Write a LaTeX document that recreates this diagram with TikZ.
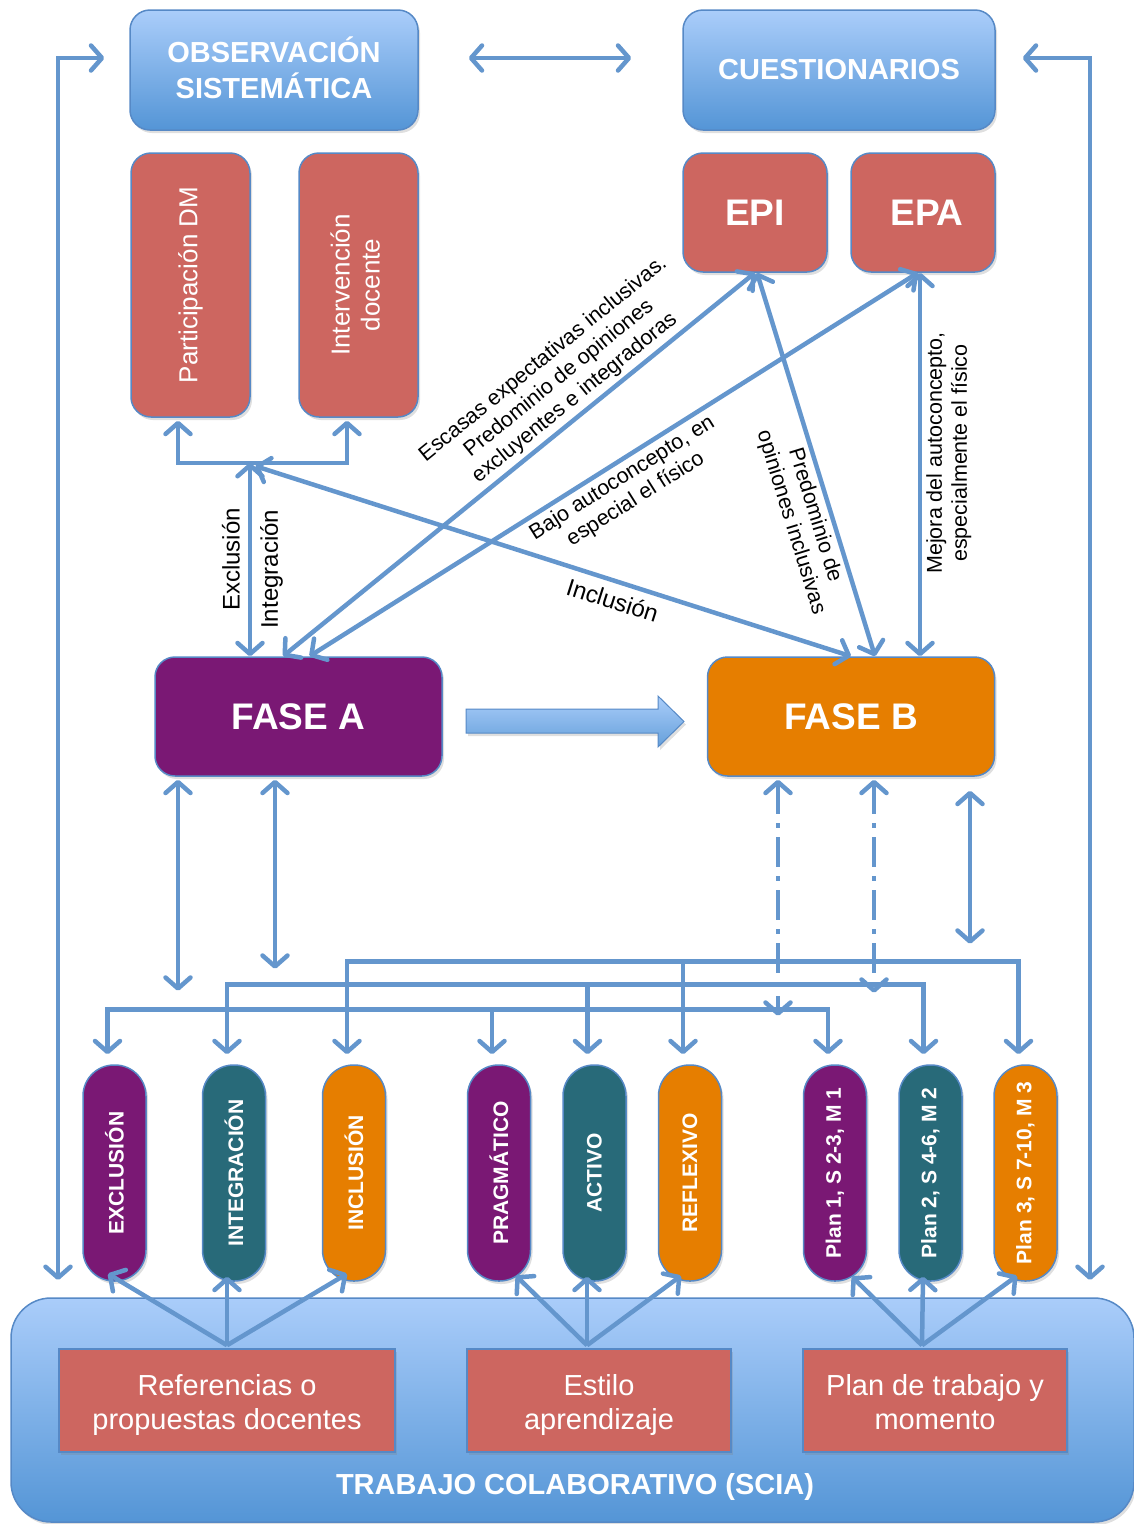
\documentclass[tikz,border=0pt]{standalone}
\usepackage{fontspec}
\setmainfont{Liberation Sans}
\usetikzlibrary{arrows.meta}
\usetikzlibrary{calc}
\usetikzlibrary{shadows}

\definecolor{boxred}{RGB}{205,102,96}
\definecolor{fasepurple}{RGB}{122,24,116}
\definecolor{faseorange}{RGB}{230,126,0}
\definecolor{pillteal}{RGB}{40,106,121}
\definecolor{linkblue}{RGB}{100,150,205}
\definecolor{edgeblue}{RGB}{86,137,198}
\definecolor{skytop}{RGB}{170,205,250}
\definecolor{skybottom}{RGB}{84,149,214}

\newcommand\twolines[3]{\raisebox{#1}[\height][\depth]{\begin{tabular}{@{}c@{}}#2\\#3\end{tabular}}}

\tikzset{
    link/.style={draw=linkblue, line width=4.5pt, >={Straight Barb[length=11pt,width=25pt,round]}},
    boxshadow/.style={drop shadow={shadow xshift=2pt,shadow yshift=-3pt,opacity=.25}},
    skybox/.style={boxshadow, draw=edgeblue, line width=1.5pt, top color=skytop, bottom color=skybottom,
        rounded corners=20pt, inner sep=0pt, text=white, align=center, font=\bfseries\fontsize{29}{35}\selectfont},
    redbox/.style={boxshadow, draw=edgeblue, line width=1.5pt, fill=boxred, rounded corners=20pt,
        inner sep=0pt, text=white, align=center},
    fasebox/.style={boxshadow, draw=edgeblue, line width=1.5pt, rounded corners=20pt, minimum width=287pt,
        minimum height=119pt, inner sep=0pt, text=white, font=\bfseries\fontsize{37}{40}\selectfont},
    pill/.style={boxshadow, draw=edgeblue, line width=1.5pt, rounded corners=31pt, minimum width=63pt,
        minimum height=216pt, inner sep=0pt, text=white, font=\bfseries\fontsize{21}{24}\selectfont},
    note/.style={font=\fontsize{21.5}{25}\selectfont, align=center, sloped, inner sep=4pt},
    bignote/.style={note, font=\fontsize{24}{27}\selectfont, inner sep=8pt}
}

\begin{document}
\begin{tikzpicture}[x=1pt,y=-1pt]
                \useasboundingbox (0,0) rectangle (1133,1524);

                \node[skybox, minimum width=288pt, minimum height=120pt] (obs) at (274,70) {\twolines{-3pt}{OBSERVACIÓN}{SISTEMÁTICA}};
                \node[skybox, minimum width=312pt, minimum height=120pt] (cuest) at (839,70) {CUESTIONARIOS};

                \node[redbox, minimum width=119pt, minimum height=264pt, font=\fontsize{26}{30}\selectfont]
                    (partic) at (190.5,285) {\rotatebox{90}{Participación DM}};
                \node[redbox, minimum width=119pt, minimum height=264pt, font=\fontsize{26}{30}\selectfont]
                    (interv) at (358.5,285) {\rotatebox{90}{\twolines{0pt}{Intervención}{docente}}};
                \node[redbox, minimum width=144pt, minimum height=119pt, font=\bfseries\fontsize{37}{40}\selectfont]
                    (epi) at (755,212.5) {EPI};
                \node[redbox, minimum width=144pt, minimum height=119pt, font=\bfseries\fontsize{37}{40}\selectfont]
                    (epa) at (923,212.5) {\hspace*{8pt}EPA};

                \node[fasebox, fill=fasepurple] (faseA) at (298.5,716.5) {FASE A};
                \node[fasebox, fill=faseorange] (faseB) at (851,716.5) {FASE B};
                \draw[boxshadow, draw=edgeblue, line width=1pt, top color=skytop, bottom color=skybottom!90!white]
                    (466,709) -- (658,709) -- (658,696) -- (684,721.5) -- (658,747) -- (658,733) -- (466,733) -- cycle;

                \draw[boxshadow, draw=edgeblue, line width=1.5pt, top color=skytop, bottom color=skybottom, rounded corners=40pt]
                    (11,1298) rectangle (1134,1522);
                \node[text=white, font=\bfseries\fontsize{29}{34}\selectfont] (scia) at (575,1487) {TRABAJO COLABORATIVO (SCIA)};

                \node[redbox, rounded corners=0pt, minimum width=336pt, minimum height=103pt, font=\fontsize{29}{34}\selectfont]
                    (refs) at (227,1400.5) {\twolines{-5pt}{Referencias o}{propuestas docentes}};
                \node[redbox, rounded corners=0pt, minimum width=264pt, minimum height=103pt, font=\fontsize{29}{34}\selectfont]
                    (estilo) at (599,1400.5) {\twolines{-5pt}{Estilo}{aprendizaje}};
                \node[redbox, rounded corners=0pt, minimum width=264pt, minimum height=103pt, font=\fontsize{29}{34}\selectfont]
                    (plan) at (935,1400.5) {\twolines{-5pt}{Plan de trabajo y}{momento}};

                \foreach \name/\x/\col/\txt in {excl/114.5/fasepurple/EXCLUSIÓN, integ/234/pillteal/INTEGRACIÓN,
                        incl/354/faseorange/INCLUSIÓN, pragm/499/fasepurple/PRAGMÁTICO, activo/594.5/pillteal/ACTIVO,
                        reflex/690/faseorange/REFLEXIVO, plan1/835/fasepurple/{Plan 1, S 2-3, M 1},
                        plan2/930.5/pillteal/{Plan 2, S 4-6, M 2}, plan3/1025.5/faseorange/{Plan 3, S 7-10, M 3}}
                    \node[pill, fill=\col] (\name) at (\x,1173) {\rotatebox{90}{\txt}};

                \coordinate (brk) at (250,463);
                \coordinate (loopL) at (58,1280);
                \coordinate (loopR) at (1090,1280);

                \draw[link,<->] ([xshift=-25pt,yshift=12pt]obs.west) -| (loopL);
                \draw[link,<->] ([xshift=27pt,yshift=12pt]cuest.east) -| (loopR);
                \draw[link,<->] ([xshift=50pt,yshift=12pt]obs.east) -- ([xshift=-51pt,yshift=12pt]cuest.west);

                \draw[link,<->] ([xshift=-12.5pt,yshift=-3pt]partic.south) |- (brk) -| ([xshift=-11.5pt,yshift=-3pt]interv.south);
                \draw[link,<->] (faseA.north -| brk) -- (brk)
                    node[bignote, pos=0.5, above] {Exclusión}
                    node[bignote, pos=0.45, below] {Integración};
                \draw[link,<->] ([xshift=5pt,yshift=-3pt]brk) -- (faseB.north)
                    node[bignote, pos=0.61, below] {Inclusión};

                \draw[link,<->] ([xshift=-15.5pt]faseA.north) -- (epi.south)
                    node[note, pos=0.64, above] {Escasas expectativas inclusivas.\\Predominio de opiniones\\excluyentes e integradoras};
                \draw[link,<->] ([xshift=11pt]faseA.north) -- ([xshift=-5pt]epa.south)
                    node[note, pos=0.5, below] {Bajo autoconcepto, en\\especial el físico};
                \draw[link,<->] ([xshift=2pt]epi.south) -- ([xshift=24pt]faseB.north)
                    node[note, pos=0.62, below] {Predominio de\\opiniones inclusivas};
                \draw[link,<->] ([xshift=69pt]faseB.north) -- ([xshift=-3pt]epa.south)
                    node[note, pos=0.53, below] {Mejora del autoconcepto,\\especialmente el físico};

                \draw[link,<->] ([xshift=-120.5pt,yshift=-3pt]faseA.south) -- ++(0,211);
                \draw[link,<->] ([xshift=-23.5pt,yshift=-3pt]faseA.south) -- ++(0,189);
                \draw[link,<->,dash pattern=on 30pt off 9pt on 5pt off 9pt] ([xshift=-73pt,yshift=-3pt]faseB.south) -- ++(0,236);
                \draw[link,<->,dash pattern=on 30pt off 9pt on 5pt off 9pt] ([xshift=23pt,yshift=-3pt]faseB.south) -- ++(0,213);
                \draw[link,<->] ([xshift=119pt,yshift=-14pt]faseB.south) -- ++(0,153);

                \draw[link,<->] ($(excl.north)+(-7,-10)$) |- ($(pragm.north)+(-7,-55)$) -| ($(plan1.north)+(-7,-10)$);
                \draw[link,<->] ($(integ.north)+(-7,-10)$) |- ($(activo.north)+(-7,-80)$) -| ($(plan2.north)+(-7,-10)$);
                \draw[link,<->] ($(incl.north)+(-7,-10)$) |- ($(reflex.north)+(-7,-103)$) -| ($(plan3.north)+(-7,-10)$);
                \draw[link,->] ($(pragm.north)+(-7,-55)$) -- ($(pragm.north)+(-7,-10)$);
                \draw[link,->] ($(activo.north)+(-7,-80)$) -- ($(activo.north)+(-7,-10)$);
                \draw[link,->] ($(reflex.north)+(-7,-103)$) -- ($(reflex.north)+(-7,-10)$);

                \foreach \src/\sx/\dst/\dx/\dy in {refs/0/excl/-6.5/-8, refs/0/integ/-7/-5, refs/0/incl/-7/-8,
                        estilo/-12/pragm/17/-6, estilo/-12/activo/-7.5/-5, estilo/-12/reflex/-9/-6,
                        plan/-13/plan1/17/-5, plan/-13/plan2/-7.5/-5, plan/-13/plan3/-8.5/-6}
                    \draw[link,->] ($(\src.north)+(\sx,-3)$) -- ($(\dst.south)+(\dx,\dy)$);
            \end{tikzpicture}
\end{document}
